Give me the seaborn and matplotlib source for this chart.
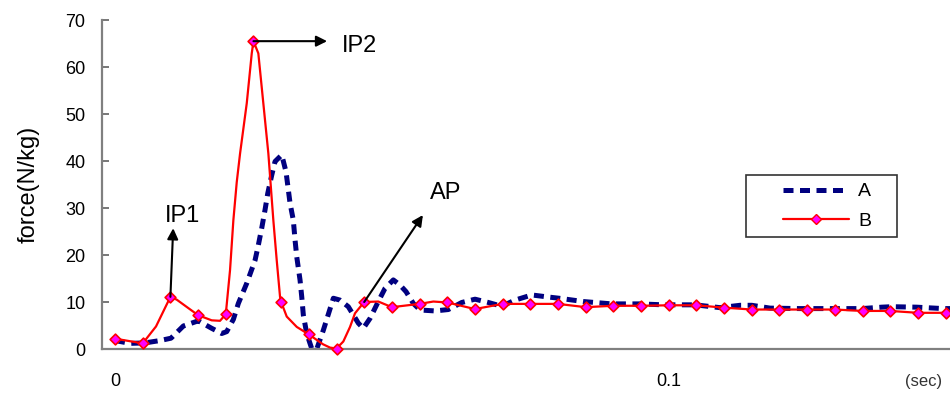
import numpy as np
import pandas as pd
import matplotlib
matplotlib.use("Agg")
import matplotlib.pyplot as plt
import seaborn as sns
from matplotlib.lines import Line2D
from matplotlib.legend_handler import HandlerLine2D

# ---------------- data ----------------
# Series A (dashed navy), time in seconds
A_t = [0.0, 0.00271, 0.00542, 0.00813, 0.01011, 0.01234, 0.01504, 0.01746, 0.01927, 0.02017,
       0.02137, 0.02227, 0.02379, 0.02529, 0.02588, 0.02649, 0.02709, 0.02758, 0.02830, 0.02890,
       0.03011, 0.03088, 0.03161, 0.03220, 0.03251, 0.03282, 0.03341, 0.03372, 0.03401, 0.03462,
       0.03552, 0.03643, 0.03762, 0.03943, 0.04064, 0.04213, 0.04394, 0.04484, 0.04605, 0.04750,
       0.04876, 0.05026, 0.05147, 0.05256, 0.05387, 0.05508, 0.05779, 0.06020, 0.06262, 0.06502,
       0.06742, 0.06984, 0.07224, 0.07526, 0.07797, 0.08019, 0.08458, 0.08971, 0.09469, 0.09902,
       0.10475, 0.10926, 0.11288, 0.11499, 0.11829, 0.12371, 0.12913, 0.13486, 0.13847, 0.14027,
       0.14479, 0.14959, 0.15080]
A_v = [1.8, 1.2, 1.3, 1.8, 2.3, 4.9, 6.0, 4.4, 3.3, 3.7,
       6.3, 9.7, 14.0, 18.9, 22.1, 25.7, 29.6, 33.1, 37.0, 39.9,
       41.3, 37.7, 31.0, 27.4, 23.2, 19.6, 14.7, 11.1, 7.2, 3.3,
       0.1, 0.0, 4.0, 10.8, 10.4, 9.0, 5.5, 4.4, 6.5, 10.0,
       12.9, 14.7, 13.6, 12.2, 9.7, 8.3, 8.1, 8.4, 9.9, 10.6,
       9.9, 9.1, 10.4, 11.5, 11.1, 10.8, 10.1, 9.6, 9.6, 9.4,
       9.4, 8.8, 9.3, 9.3, 8.7, 8.6, 8.6, 8.6, 8.9, 9.0,
       8.9, 8.6, 8.6]

# Series B (red, diamond markers) - sampled points with markers
B_t = [0.000, 0.005, 0.010, 0.015, 0.020, 0.025, 0.030, 0.035, 0.040, 0.045,
       0.050, 0.055, 0.060, 0.065, 0.070, 0.075, 0.080, 0.085, 0.090, 0.095,
       0.100, 0.105, 0.110, 0.115, 0.120, 0.125, 0.130, 0.135, 0.140, 0.145, 0.150]
B_v = [2.2, 1.2, 11.1, 7.2, 7.4, 65.5, 10.0, 3.1, 0.1, 10.0,
       8.9, 9.6, 9.9, 8.5, 9.6, 9.6, 9.6, 8.9, 9.2, 9.2,
       9.3, 9.3, 8.8, 8.4, 8.4, 8.4, 8.4, 8.1, 8.1, 7.7, 7.7]
# Series B - curve readings between the markers (smoothed line)
B_mid_t = [0.00740, 0.01114, 0.01324, 0.01746, 0.01896, 0.02077, 0.02137, 0.02198, 0.02258,
           0.02379, 0.02469, 0.02588, 0.02678, 0.02769, 0.02859, 0.02920, 0.02980, 0.03101,
           0.03282, 0.03757, 0.03883, 0.04123, 0.04244, 0.04334, 0.04755, 0.05749]
B_mid_v = [4.8, 10.5, 8.7, 6.1, 6.0, 16.8, 27.4, 35.5, 41.6,
           52.3, 62.9, 62.9, 52.3, 41.6, 27.4, 18.9, 11.1, 6.9,
           4.7, 1.0, 0.3, 1.6, 4.7, 7.6, 10.1, 10.1]

y_ticks = [0, 10, 20, 30, 40, 50, 60, 70]
x_tick_vals = [0, 0.1]
x_tick_labels = ["0", "0.1"]

dfA = pd.DataFrame({"t": A_t, "v": A_v})
dfB_pts = pd.DataFrame({"t": B_t, "v": B_v})
dfB_line = pd.concat([dfB_pts, pd.DataFrame({"t": B_mid_t, "v": B_mid_v})]).sort_values("t")

# ---------------- plot ----------------
sns.set_style("white")
plt.rcParams["font.family"] = ["Liberation Sans", "DejaVu Sans"]
plt.rcParams["text.color"] = "black"
plt.rcParams["axes.labelcolor"] = "black"
plt.rcParams["xtick.color"] = "black"
plt.rcParams["ytick.color"] = "black"

fig = plt.figure(figsize=(9.5, 3.94), dpi=100)
ax = fig.add_axes([0.1074, 0.1142, 0.8926, 0.835])

navy = "#000080"
sns.lineplot(data=dfA, x="t", y="v", ax=ax, color=navy, lw=3.6, sort=False,
             estimator=None, clip_on=False, zorder=2)
lineA = ax.lines[-1]
lineA.set_dashes([2.0, 1.3])

sns.lineplot(data=dfB_line, x="t", y="v", ax=ax, color="red", lw=1.6, sort=False,
             estimator=None, zorder=3, clip_on=False)
sns.scatterplot(data=dfB_pts, x="t", y="v", ax=ax, marker="D", s=30, color="#ff00ff",
                edgecolor="red", linewidth=1.2, zorder=4, clip_on=False)

ax.set_xlim(-0.00235, 0.1508)
ax.set_ylim(0, 70)
ax.set_yticks(y_ticks)
ax.set_xticks(x_tick_vals)
ax.set_xticklabels(x_tick_labels)
ax.set_xlabel("")
ax.set_ylabel("force(N/kg)", fontsize=17, labelpad=18)

for s in ["top", "right"]:
    ax.spines[s].set_visible(False)
for s in ["left", "bottom"]:
    ax.spines[s].set_color("#808080")
    ax.spines[s].set_linewidth(1.6)

ax.tick_params(axis="y", direction="in", length=5, width=1.2, color="#606060",
               labelsize=13, pad=12, left=True, labelcolor="black")
ax.tick_params(axis="x", which="major", length=0, labelsize=13, pad=17, labelcolor="black")
ax.set_xticks([0.0973], minor=True)
ax.tick_params(axis="x", which="minor", direction="in", length=5, width=1.2, color="#404040")

# annotations
arrow_kw = dict(arrowstyle="-|>", color="black", lw=1.5, mutation_scale=16,
                shrinkA=0, shrinkB=0)
ax.annotate("", xy=(0.0105, 25.7), xytext=(B_t[2], B_v[2]), arrowprops=arrow_kw, zorder=5)
ax.text(0.0122, 28.2, "IP1", fontsize=17, ha="center", va="center")
ax.annotate("", xy=(0.0383, B_v[5]), xytext=(B_t[5], B_v[5]), arrowprops=arrow_kw, zorder=5)
ax.text(0.0410, 64.4, "IP2", fontsize=17, ha="left", va="center")
ax.annotate("", xy=(0.0556, 28.5), xytext=(B_t[9], B_v[9]), arrowprops=arrow_kw, zorder=5)
ax.text(0.0597, 33.2, "AP", fontsize=17, ha="center", va="center")

fig.text(0.9726, 0.0305, "(sec)", fontsize=12, ha="center", va="center", color="#333333")

# legend
hA = Line2D([], [], color=navy, lw=3.6, dashes=[2.0, 1.3])
hB = Line2D([], [], color="red", lw=1.6, marker="D", markersize=5.5,
            markerfacecolor="#ff00ff", markeredgecolor="red")
leg = ax.legend([hA, hB], ["A", "B"], loc="upper left",
                bbox_to_anchor=(0.759, 0.341, 0.178, 0.188), mode="expand",
                borderaxespad=0, fontsize=14, frameon=True, fancybox=False,
                borderpad=0.4, labelspacing=0.6, handlelength=4.9, handletextpad=0.5,
                handler_map={hA: HandlerLine2D(xpad=1.5),
                             hB: HandlerLine2D(xpad=1.5, numpoints=1)})
leg.get_frame().set_edgecolor("black")
leg.get_frame().set_linewidth(1.2)

fig.savefig("out.png", dpi=100)
